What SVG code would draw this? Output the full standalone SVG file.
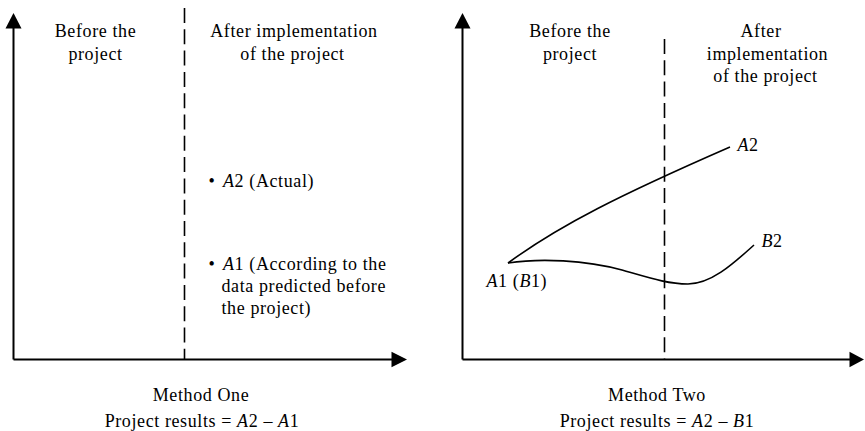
<svg xmlns="http://www.w3.org/2000/svg" width="865" height="431" viewBox="0 0 865 431">
  <style>
    .t { font-family: "Liberation Serif", "Times New Roman", serif; font-size: 18px; letter-spacing: 0.6px; fill: #000; }
    .m { text-anchor: middle; }
    .i { font-style: italic; }
    .axis { stroke: #000; stroke-width: 2; fill: none; }
    .dash { stroke: #000; stroke-width: 1.6; fill: none; stroke-dasharray: 15 6.3; }
    .curve { stroke: #000; stroke-width: 1.6; fill: none; }
    .head { fill: #000; }
  </style>

  <!-- Method One panel -->
  <g id="method-one">
    <g id="m1-axes">
      <path class="axis" d="M13.5,359.5 V26 M13.5,359.5 H394"/>
      <polygon class="head" points="13.5,13 5.5,28.5 21.5,28.5"/>
      <polygon class="head" points="407,359.5 391.5,351.8 391.5,367.2"/>
    </g>
    <line id="m1-divider" class="dash" x1="184.5" y1="8" x2="184.5" y2="359"/>
    <g id="m1-before">
      <text class="t m" x="95.5" y="37">Before the</text>
      <text class="t m" x="95.5" y="59.5">project</text>
    </g>
    <g id="m1-after">
      <text class="t m" x="294" y="37">After implementation</text>
      <text class="t m" x="292.5" y="59.5">of the project</text>
    </g>
    <g id="m1-a2">
      <text class="t" x="208.5" y="186.5">•</text>
      <text class="t" x="223" y="186.5"><tspan class="i">A</tspan>2 (Actual)</text>
    </g>
    <g id="m1-a1">
      <text class="t" x="208.5" y="270">•</text>
      <text class="t" x="223" y="270"><tspan class="i">A</tspan>1 (According to the</text>
      <text class="t" x="221.5" y="292">data predicted before</text>
      <text class="t" x="221.5" y="314">the project)</text>
    </g>
    <g id="m1-caption">
      <text class="t m" x="201" y="400.5">Method One</text>
      <text class="t m" x="202" y="426.5">Project results = <tspan class="i">A</tspan>2 – <tspan class="i">A</tspan>1</text>
    </g>
  </g>

  <!-- Method Two panel -->
  <g id="method-two">
    <g id="m2-axes">
      <path class="axis" d="M462.5,359.5 V26 M462.5,359.5 H851"/>
      <polygon class="head" points="462.5,13 454.5,28.5 470.5,28.5"/>
      <polygon class="head" points="864,359.5 849.5,351.8 849.5,367.2"/>
    </g>
    <line id="m2-divider" class="dash" x1="664.5" y1="39" x2="664.5" y2="359"/>
    <g id="m2-before">
      <text class="t m" x="570" y="37">Before the</text>
      <text class="t m" x="570" y="59.5">project</text>
    </g>
    <g id="m2-after">
      <text class="t m" x="761" y="37">After</text>
      <text class="t m" x="767.5" y="59.5">implementation</text>
      <text class="t m" x="765.5" y="82">of the project</text>
    </g>
    <g id="m2-curves">
      <path id="curve-a" class="curve" d="M508,263 C560,225 620,195 730,147"/>
      <path id="curve-b" class="curve" d="M508,263 C540,258 585,260 622,270 C650,278 668,284 688,284 C712,284 735,262 754,245"/>
    </g>
    <text id="label-a2" class="t i" x="737.5" y="151">A<tspan font-style="normal">2</tspan></text>
    <text id="label-b2" class="t i" x="761.5" y="247">B<tspan font-style="normal">2</tspan></text>
    <text id="label-a1b1" class="t" x="486.5" y="287"><tspan class="i">A</tspan>1 (<tspan class="i">B</tspan>1)</text>
    <g id="m2-caption">
      <text class="t m" x="657" y="400.5">Method Two</text>
      <text class="t m" x="657" y="426.5">Project results = <tspan class="i">A</tspan>2 – <tspan class="i">B</tspan>1</text>
    </g>
  </g>
</svg>
